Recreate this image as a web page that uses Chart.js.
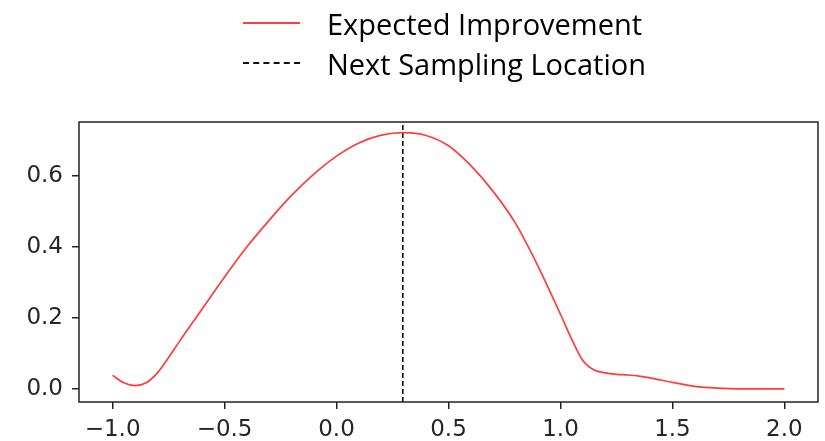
<!DOCTYPE html>
<html>
<head>
<meta charset="utf-8">
<script src="https://cdn.jsdelivr.net/npm/chart.js@4"></script>
<style>
  html, body { margin: 0; padding: 0; background: #fff; }
  #wrap { position: relative; width: 825px; height: 441px; }
  #legend { position: absolute; left: 243px; top: 3px; font-family: "Open Sans", sans-serif; font-size: 29px; color: #000; }
  .item { height: 40px; display: flex; align-items: center; }
  .swatch { width: 57px; height: 0; margin-right: 27px; }
</style>
</head>
<body>
<div id="wrap">
  <canvas id="myChart" width="825" height="441"></canvas>
  <div id="legend"></div>
</div>
<script>
// x-värden och förväntad förbättring
var xValues = [-1.0, -0.95, -0.9, -0.85, -0.8, -0.75, -0.7, -0.6, -0.5, -0.4, -0.3, -0.2, -0.1, 0.0, 0.1, 0.2, 0.3, 0.4, 0.5, 0.6, 0.7, 0.8, 0.9, 1.0, 1.05, 1.1, 1.15, 1.2, 1.25, 1.3, 1.35, 1.4, 1.5, 1.6, 1.7, 1.8, 1.9, 2.0];
var eiValues = [0.038, 0.017, 0.009, 0.017, 0.045, 0.088, 0.135, 0.225, 0.315, 0.40, 0.475, 0.545, 0.605, 0.655, 0.692, 0.714, 0.721, 0.713, 0.684, 0.628, 0.555, 0.465, 0.345, 0.21, 0.14, 0.08, 0.053, 0.045, 0.041, 0.039, 0.036, 0.031, 0.018, 0.007, 0.002, 0.0, 0.0, 0.0];

// nästa samplingspunkt
var nextX = 0.296;

// axelgränser och tickar
var xMin = -1.15, xMax = 2.15;
var yMin = -0.037, yMax = 0.751;
var xTicks = [-1.0, -0.5, 0.0, 0.5, 1.0, 1.5, 2.0];
var yTicks = [0.0, 0.2, 0.4, 0.6];

var legendLabels = ['Expected Improvement', 'Next Sampling Location'];

var eiPoints = xValues.map(function (x, i) { return { x: x, y: eiValues[i] }; });
var nextPoints = [{ x: nextX, y: yMin }, { x: nextX, y: yMax }];

// ram runt hela plotytan
var frame = {
    id: 'frame',
    afterDraw: function (chart) {
        var a = chart.chartArea, c = chart.ctx;
        c.save();
        c.strokeStyle = '#222';
        c.lineWidth = 1.5;
        c.strokeRect(a.left, a.top, a.right - a.left, a.bottom - a.top);
        c.restore();
    }
};

var fmt = function (v) {
    var s = Math.abs(v).toFixed(1);
    return (v < -1e-9 ? '\u2212' : '') + s;
};

var ctx = document.getElementById('myChart').getContext('2d');
var myChart = new Chart(ctx, {
    type: 'line',
    data: {
        datasets: [{
            label: legendLabels[0],
            data: eiPoints,
            borderColor: 'rgb(255, 60, 60)',
            borderWidth: 1.7,
            pointRadius: 0,
            cubicInterpolationMode: 'monotone',
            fill: false
        }, {
            label: legendLabels[1],
            data: nextPoints,
            borderColor: '#111',
            borderWidth: 1.6,
            borderDash: [5, 3],
            pointRadius: 0,
            fill: false
        }]
    },
    options: {
        responsive: false,
        animation: false,
        layout: { padding: { top: 122, right: 7, left: 0, bottom: 0 } },
        plugins: { legend: { display: false }, tooltip: { enabled: false } },
        scales: {
            x: {
                type: 'linear',
                min: xMin,
                max: xMax,
                afterBuildTicks: function (scale) { scale.ticks = xTicks.map(function (v) { return { value: v }; }); },
                afterFit: function (scale) { scale.height = 39; },
                grid: { drawOnChartArea: false, drawTicks: true, tickLength: 7, color: '#222', lineWidth: 1.5 },
                border: { display: false },
                ticks: { callback: fmt, color: '#262626', padding: 7, maxRotation: 0, font: { family: 'DejaVu Sans', size: 23 } }
            },
            y: {
                type: 'linear',
                min: yMin,
                max: yMax,
                afterBuildTicks: function (scale) { scale.ticks = yTicks.map(function (v) { return { value: v }; }); },
                afterFit: function (scale) { scale.width = 79; },
                grid: { drawOnChartArea: false, drawTicks: true, tickLength: 7, color: '#222', lineWidth: 1.5 },
                border: { display: false },
                ticks: { callback: fmt, color: '#262626', padding: 9, font: { family: 'DejaVu Sans', size: 23 } }
            }
        }
    },
    plugins: [frame]
});

// legend som vanlig text ovanför diagrammet
var legend = document.getElementById('legend');
myChart.data.datasets.forEach(function (ds) {
    var row = document.createElement('div');
    row.className = 'item';
    var sw = document.createElement('span');
    sw.className = 'swatch';
    sw.style.borderTop = (ds.borderDash ? '2px dashed ' : '2px solid ') + ds.borderColor;
    var txt = document.createElement('span');
    txt.textContent = ds.label;
    row.appendChild(sw);
    row.appendChild(txt);
    legend.appendChild(row);
});
</script>
</body>
</html>
